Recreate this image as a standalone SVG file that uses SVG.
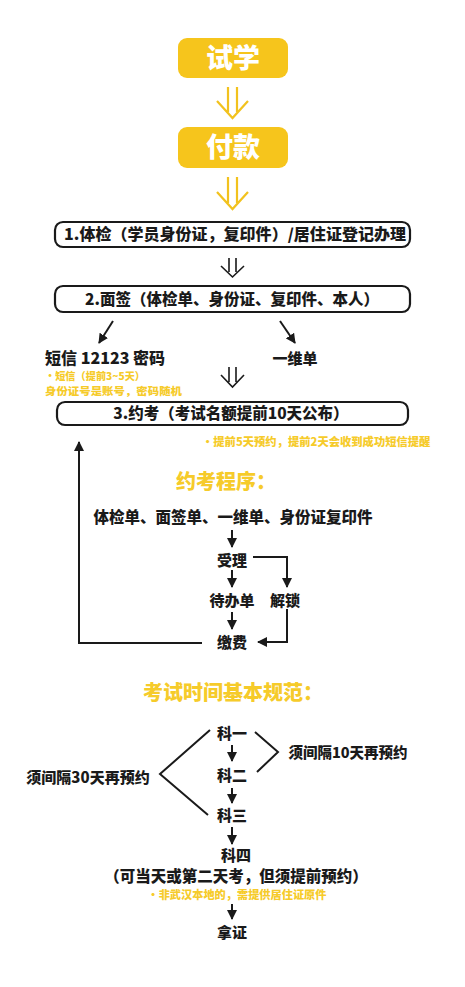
<svg xmlns="http://www.w3.org/2000/svg" width="465" height="987" viewBox="0 0 465 987">
<defs>
<style>
.t{font-family:"Noto Sans CJK SC","Noto Sans",sans-serif;font-weight:900;fill:#1a1a1a;}
.y{font-family:"Noto Sans CJK SC","Noto Sans",sans-serif;font-weight:900;fill:#F6CB2A;}
.w{font-family:"Noto Sans CJK SC","Noto Sans",sans-serif;font-weight:900;fill:#ffffff;}
.box{fill:#ffffff;stroke:#1a1a1a;stroke-width:2.2;}
.yb{fill:#F6C51C;}
.ln{fill:none;stroke:#1a1a1a;stroke-width:2;}
.yl{fill:none;stroke:#F2C21E;stroke-width:2.2;}
.bl{fill:none;stroke:#1a1a1a;stroke-width:1.6;}
</style>
<marker id="ah" viewBox="0 0 10 10" refX="9" refY="5" markerWidth="5" markerHeight="5" orient="auto">
<path d="M0,0 L10,5 L0,10 Z" fill="#1a1a1a"/>
</marker>
</defs>
<rect width="465" height="987" fill="#ffffff"/>

<g id="n-shixue">
<rect class="yb" x="178" y="38" width="110" height="40" rx="9"/>
<text class="w" x="233" y="68" font-size="27" text-anchor="middle">试学</text>
</g>
<g id="n-fukuan">
<rect class="yb" x="178" y="127" width="110" height="41" rx="9"/>
<text class="w" x="233" y="157" font-size="27" text-anchor="middle">付款</text>
</g>
<g id="n-step1">
<rect class="box" x="55" y="222" width="355" height="25" rx="8"/>
<text class="t" x="235" y="240" font-size="15.5" text-anchor="middle" textLength="342" lengthAdjust="spacingAndGlyphs">1.体检（学员身份证，复印件）/居住证登记办理</text>
</g>
<g id="n-step2">
<rect class="box" x="55" y="286" width="355" height="26" rx="8"/>
<text class="t" x="232" y="304.5" font-size="15.5" text-anchor="middle">2.面签（体检单、身份证、复印件、本人）</text>
</g>
<g id="n-sms">
<text class="t" x="45" y="364" font-size="16">短信 12123 密码</text>
<text class="y" x="45" y="380" font-size="10.5" textLength="100" lengthAdjust="spacingAndGlyphs">•短信（提前3~5天）</text>
<text class="y" x="45" y="395" font-size="10.5" textLength="137" lengthAdjust="spacingAndGlyphs">身份证号是账号，密码随机</text>
</g>
<g id="n-yiwei">
<text class="t" x="295" y="364" font-size="15" text-anchor="middle">一维单</text>
</g>
<g id="n-step3">
<rect class="box" x="57" y="402" width="351" height="23" rx="8"/>
<text class="t" x="231" y="419" font-size="15.5" text-anchor="middle">3.约考（考试名额提前10天公布）</text>
<text class="y" x="202" y="446" font-size="11.3">•提前5天预约，提前2天会收到成功短信提醒</text>
</g>
<g id="n-title1">
<text class="y" x="226" y="489" font-size="20" text-anchor="middle">约考程序：</text>
</g>
<g id="n-docs">
<text class="t" x="233" y="523" font-size="15.5" text-anchor="middle">体检单、面签单、一维单、身份证复印件</text>
</g>
<g id="n-shouli"><text class="t" x="232" y="566" font-size="15" text-anchor="middle">受理</text></g>
<g id="n-daiban"><text class="t" x="232" y="606" font-size="15" text-anchor="middle">待办单</text></g>
<g id="n-jiesuo"><text class="t" x="285" y="606" font-size="15" text-anchor="middle">解锁</text></g>
<g id="n-jiaofei"><text class="t" x="232" y="648" font-size="15" text-anchor="middle">缴费</text></g>
<g id="n-title2">
<text class="y" x="233" y="700" font-size="20" text-anchor="middle">考试时间基本规范：</text>
</g>
<g id="n-k1"><text class="t" x="232" y="739" font-size="15" text-anchor="middle">科一</text></g>
<g id="n-k2"><text class="t" x="232" y="781" font-size="15" text-anchor="middle">科二</text></g>
<g id="n-k3"><text class="t" x="232" y="821" font-size="15" text-anchor="middle">科三</text></g>
<g id="n-k4">
<text class="t" x="236" y="861" font-size="15" text-anchor="middle">科四</text>
<text class="t" x="236" y="882" font-size="15.5" text-anchor="middle">（可当天或第二天考，但须提前预约）</text>
<text class="y" x="237" y="899" font-size="11" text-anchor="middle" textLength="179" lengthAdjust="spacingAndGlyphs">•非武汉本地的，需提供居住证原件</text>
</g>
<g id="n-nazheng"><text class="t" x="232" y="938" font-size="15" text-anchor="middle">拿证</text></g>
<g id="n-30"><text class="t" x="88" y="783" font-size="15" text-anchor="middle">须间隔30天再预约</text></g>
<g id="n-10"><text class="t" x="348" y="758" font-size="14.5" text-anchor="middle">须间隔10天再预约</text></g>

<g id="connectors">
<path class="yl" d="M228,87 V112 M237,87 V112 M217,101 L232.5,118 L248,101"/>
<path class="yl" d="M228,177 V203 M237,177 V203 M217,192 L232.5,209 L248,192"/>
<path class="bl" d="M229,258 V272 M236,258 V272 M221,266 L232.5,277 L244,266"/>
<path class="bl" d="M229,367 V382 M236,367 V382 M221,375 L232.5,387 L244,375"/>
<line class="ln" x1="113" y1="321" x2="99" y2="343" marker-end="url(#ah)"/>
<line class="ln" x1="280" y1="321" x2="295" y2="343" marker-end="url(#ah)"/>
<path class="ln" d="M202,643 H79 V442" marker-end="url(#ah)"/>
<line class="ln" x1="232" y1="530" x2="232" y2="547" marker-end="url(#ah)"/>
<line class="ln" x1="232" y1="570" x2="232" y2="587" marker-end="url(#ah)"/>
<line class="ln" x1="232" y1="612" x2="232" y2="629" marker-end="url(#ah)"/>
<path class="ln" d="M253,557 H287 V587" marker-end="url(#ah)"/>
<path class="ln" d="M287,609 V642 H258" marker-end="url(#ah)"/>
<line class="ln" x1="232" y1="745" x2="232" y2="761" marker-end="url(#ah)"/>
<line class="ln" x1="232" y1="788" x2="232" y2="803" marker-end="url(#ah)"/>
<line class="ln" x1="232" y1="827" x2="232" y2="844" marker-end="url(#ah)"/>
<line class="ln" x1="232" y1="904" x2="232" y2="919" marker-end="url(#ah)"/>
<path class="ln" d="M210,730 L160,774 L208,815"/>
<path class="ln" d="M255,732 L278,752 L257,772"/>
</g>
</svg>
